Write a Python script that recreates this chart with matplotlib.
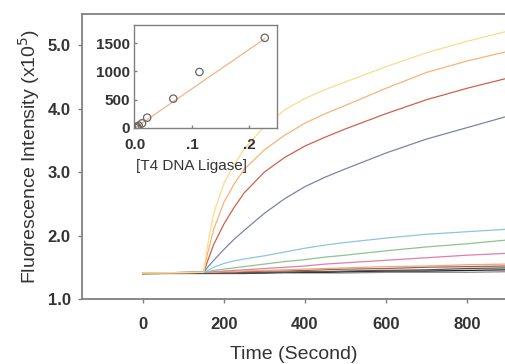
import matplotlib
matplotlib.use("Agg")
import matplotlib.pyplot as plt
import numpy as np

plt.rcParams['font.family'] = ['Liberation Sans', 'DejaVu Sans']

# time axis (seconds) shared by all kinetic traces
t = [0, 150, 160, 175, 200, 225, 250, 300, 350, 400, 450, 500, 600, 700, 800, 900]

# fluorescence (x10^5), highest ligase first
f_yellow = [1.41, 1.42, 1.85, 2.35, 2.82, 3.11, 3.36, 3.72, 3.98, 4.16, 4.30, 4.42, 4.66, 4.88, 5.06, 5.22]
f_orange = [1.41, 1.42, 1.72, 2.10, 2.52, 2.81, 3.04, 3.35, 3.58, 3.77, 3.92, 4.05, 4.32, 4.57, 4.75, 4.90]
f_red = [1.41, 1.42, 1.60, 1.86, 2.18, 2.44, 2.67, 3.00, 3.23, 3.41, 3.55, 3.68, 3.92, 4.14, 4.32, 4.48]
f_slate = [1.41, 1.42, 1.50, 1.61, 1.78, 1.94, 2.08, 2.35, 2.58, 2.77, 2.92, 3.05, 3.30, 3.52, 3.70, 3.88]
f_ltblue = [1.41, 1.42, 1.45, 1.50, 1.56, 1.60, 1.63, 1.68, 1.74, 1.80, 1.85, 1.89, 1.96, 2.02, 2.06, 2.10]
f_green = [1.41, 1.42, 1.43, 1.45, 1.47, 1.49, 1.51, 1.55, 1.59, 1.62, 1.66, 1.69, 1.76, 1.82, 1.87, 1.93]
f_pink = [1.41, 1.42, 1.42, 1.43, 1.44, 1.45, 1.46, 1.48, 1.50, 1.52, 1.55, 1.57, 1.61, 1.65, 1.69, 1.72]
f_salmon = [1.41, 1.42, 1.42, 1.42, 1.43, 1.43, 1.44, 1.45, 1.46, 1.47, 1.48, 1.49, 1.51, 1.52, 1.54, 1.55]
f_brown = [1.41, 1.42, 1.42, 1.42, 1.42, 1.42, 1.43, 1.44, 1.44, 1.45, 1.46, 1.47, 1.48, 1.50, 1.51, 1.52]
f_dgray = [1.40, 1.41, 1.41, 1.41, 1.41, 1.41, 1.42, 1.42, 1.42, 1.43, 1.43, 1.44, 1.45, 1.46, 1.48, 1.49]
f_black = [1.40, 1.41, 1.41, 1.41, 1.41, 1.41, 1.41, 1.41, 1.42, 1.42, 1.42, 1.43, 1.44, 1.44, 1.45, 1.46]
f_gray = [1.40, 1.40, 1.40, 1.40, 1.40, 1.40, 1.40, 1.41, 1.41, 1.41, 1.41, 1.41, 1.42, 1.42, 1.42, 1.43]

traces = [f_gray, f_black, f_dgray, f_brown, f_salmon, f_pink, f_green,
          f_ltblue, f_slate, f_red, f_orange, f_yellow]
colors = ['#8a8a8a', '#202020', '#555555', '#9a6050', '#f0a878', '#e07fa8',
          '#8cc48c', '#8cc4e8', '#7f82a8', '#d0604c', '#f6b478', '#fadc8c']

# inset: initial rate vs [T4 DNA Ligase]
ligase = [0.0, 0.003, 0.006, 0.012, 0.021, 0.067, 0.113, 0.228]
rate = [0, 20, 40, 80, 180, 517, 990, 1595]
fit_x = [0.0, 0.228]
fit_y = [0, 1580]

fig = plt.figure(figsize=(5.06, 3.64), dpi=100)
ax = fig.add_axes([0.162, 0.1786, 0.838, 0.7829])
for y, c in zip(traces, colors):
    ax.plot(t, y, color=c, lw=0.9)

ax.set_xlim(-150, 896)
ax.set_ylim(1.0, 5.49)
ax.set_xticks([0, 200, 400, 600, 800])
ax.set_yticks([1.0, 2.0, 3.0, 4.0, 5.0])
ax.set_yticklabels(['1.0', '2.0', '3.0', '4.0', '5.0'])
ax.spines['right'].set_visible(False)
for s in ['left', 'top', 'bottom']:
    ax.spines[s].set_color('#808080')
    ax.spines[s].set_linewidth(1.3)
ax.tick_params(direction='out', length=3, width=1, color='#808080',
               labelsize=12, labelcolor='#333333', pad=5)
ax.tick_params(axis='x', pad=10)
for lab in ax.get_xticklabels() + ax.get_yticklabels():
    lab.set_fontweight('bold')
ax.set_xlabel('Time (Second)', fontsize=14, color='#333333', labelpad=10)
ax.set_ylabel('Fluorescence Intensity (x10$^5$)', fontsize=14, color='#333333', labelpad=4)

ins = fig.add_axes([0.265, 0.648, 0.283, 0.283])
ins.plot(fit_x, fit_y, color='#f2b48c', lw=0.9)
ins.scatter(ligase, rate, s=28, facecolors='none', edgecolors='#666666', linewidths=0.9, zorder=3)
ins.set_xlim(-0.002, 0.25)
ins.set_ylim(-5, 1820)
ins.set_xticks([0.0, 0.1, 0.2])
ins.set_xticklabels(['0.0', '.1', '.2'])
ins.set_yticks([0, 500, 1000, 1500])
for s in ins.spines.values():
    s.set_color('#808080')
    s.set_linewidth(1.0)
ins.tick_params(direction='in', length=2, width=1, color='#808080',
                labelsize=11, labelcolor='#333333', pad=3)
ins.tick_params(axis='x', pad=7)
for lab in ins.get_xticklabels() + ins.get_yticklabels():
    lab.set_fontweight('bold')
ins.set_xlabel('[T4 DNA Ligase]', fontsize=11, color='#333333')
ins.xaxis.set_label_coords(0.40, -0.30)

fig.savefig('out.png', dpi=100)
